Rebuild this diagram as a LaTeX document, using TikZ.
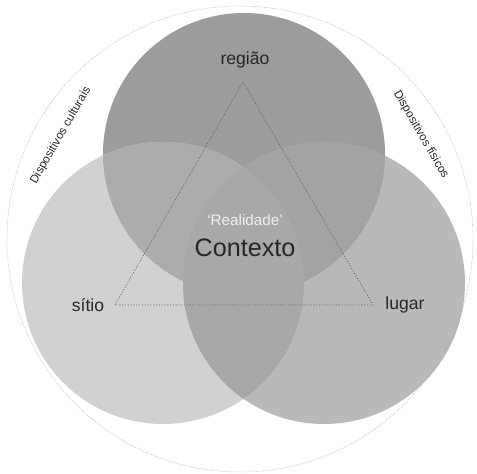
\documentclass[tikz,border=0pt]{standalone}
\usepackage{fontspec}
\setmainfont{Liberation Sans}
\usetikzlibrary{calc}
\definecolor{cTop}{RGB}{155,156,157}
\definecolor{cLeft}{RGB}{209,209,209}
\definecolor{cRight}{RGB}{183,185,186}
\definecolor{cTL}{RGB}{171,172,173}
\definecolor{cTR}{RGB}{162,163,164}
\definecolor{cLR}{RGB}{167,168,169}
\definecolor{cAll}{RGB}{167,168,169}
\tikzset{
  lbl/.style={text=black!85,font=\fontsize{15}{15}\selectfont},
  side/.style={text=black!85,font=\fontsize{10}{10}\selectfont},
  rim/.style={draw=black!35,line width=.4pt,dash pattern=on .6pt off .9pt},
  tri/.style={draw=black!60,line width=.6pt,dash pattern=on 1pt off 1.4pt}
}
\begin{document}
\begin{tikzpicture}[x=0.03cm,y=0.03cm]
    \useasboundingbox(0,0)rectangle(477,473);
    \def\r{141}
    \coordinate(O)at(240,234);
    \coordinate(T)at(244,319);
    \coordinate(L)at(163,190);
    \coordinate(R)at(324,190);
    % the three discs and their overlaps
    \fill[cTop](T)circle(\r);
    \fill[cLeft](L)circle(\r);
    \fill[cRight](R)circle(\r);
    \begin{scope}
      \clip(T)circle(\r);
      \fill[cTL](L)circle(\r);
    \end{scope}
    \begin{scope}
      \clip(T)circle(\r);
      \fill[cTR](R)circle(\r);
    \end{scope}
    \begin{scope}
      \clip(L)circle(\r);
      \fill[cLR](R)circle(\r);
    \end{scope}
    \begin{scope}
      \clip(L)circle(\r);
      \clip(R)circle(\r);
      \fill[cAll](T)circle(\r);
    \end{scope}
    \draw[rim](O)circle(233);
    % triangle
    \coordinate(A)at(243,391);
    \coordinate(B)at(115,168);
    \coordinate(C)at(373,168);
    \draw[tri](A)--(B)--(C)--cycle;
    \node[lbl](regiao)at(245,413){região};
    \node[lbl](sitio)at(88,168){sítio};
    \node[lbl](lugar)at(405,168){lugar};
    \node[text=white!94!black,font=\fontsize{13}{13}\selectfont](real)at(245,253){‘Realidade’};
    \node[text=black!85,font=\fontsize{21.5}{21.5}\selectfont](ctx)at(245,225){Contexto};
    \node[side,rotate=60](cult)at($(O)+(150:207)$){Dispositivos culturais};
    \node[side,rotate=-60](fis)at($(O)+(30:209)$){Dispositivos físicos};
  \end{tikzpicture}
\end{document}
